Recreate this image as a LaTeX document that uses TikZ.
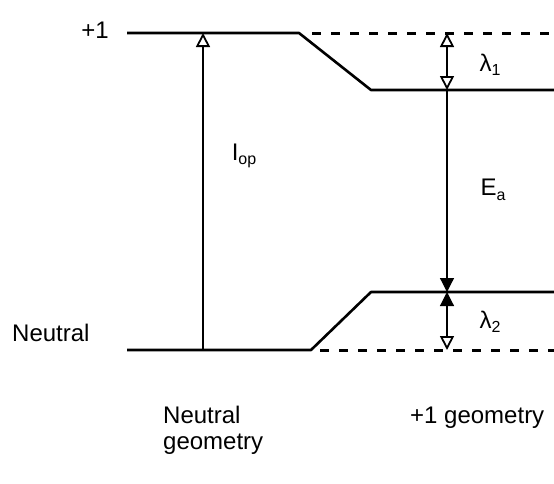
\documentclass[tikz,border=0pt]{standalone}
\usepackage{fontspec}
\setmainfont{Liberation Sans}
\usetikzlibrary{arrows.meta}
\newcommand\sbsc[1]{\raisebox{-0.35ex}{\fontsize{16}{16}\selectfont #1}}
\begin{document}
\begin{tikzpicture}[x=1pt,y=-1pt,
  every node/.style={font=\fontsize{24}{26}\selectfont, inner sep=0pt},
  level/.style={line width=2.6pt, line join=round},
  dashlevel/.style={line width=3pt, dash pattern=on 9pt off 10pt},
  gap/.style={line width=1.2pt},
  openhead/.tip={Triangle[open,length=14pt,width=14pt,line width=1.8pt]},
  fullhead/.tip={Triangle[length=14pt,width=14pt]}
]
\useasboundingbox (0,0) rectangle (554,483);
% levels
\coordinate (p1L) at (127,33);
\coordinate (p1a) at (299,33);
\coordinate (p1b) at (371,90);
\coordinate (p1R) at (554,90);
\coordinate (d1L) at (312,33);
\coordinate (d1R) at (554,33);
\coordinate (n0L) at (127,350);
\coordinate (n0a) at (311,350);
\coordinate (n0b) at (371,292);
\coordinate (n0R) at (554,292);
\coordinate (d0L) at (320,350);
\coordinate (d0R) at (554,350);
% arrow ends
\coordinate (iopB) at (203,350);
\coordinate (iopT) at (203,33);
\coordinate (l1T) at (447,33);
\coordinate (l1B) at (447,90);
\coordinate (l2T) at (447,292);
\coordinate (l2B) at (447,350);

\draw[level] (p1L) -- (p1a) -- (p1b) -- (p1R);
\draw[dashlevel] (d1L) -- (d1R);
\draw[level] (n0L) -- (n0a) -- (n0b) -- (n0R);
\draw[dashlevel] (d0L) -- (d0R);

\draw[gap, -openhead] (iopB) -- (iopT);
\draw[gap, openhead-openhead] (l1T) -- (l1B);
\draw[gap, -fullhead] (l1B) -- (l2T);
\draw[gap, fullhead-openhead] (l2T) -- (l2B);

% labels
\node[anchor=base east] (lplus) at (109,38) {+1};
\node[anchor=base west] (lneu) at (12,341) {Neutral};
\node (liop) at (244,156) {I\sbsc{op}};
\node (llam1) at (490,65) {λ\sbsc{1}};
\node (lea) at (493,190) {E\sbsc{a}};
\node (llam2) at (490,322) {λ\sbsc{2}};
\node[anchor=base west, align=left] (lng) at (163,449) {Neutral\\geometry};
\node[anchor=base west] (lpg) at (410,423) {+1 geometry};
\end{tikzpicture}
\end{document}
